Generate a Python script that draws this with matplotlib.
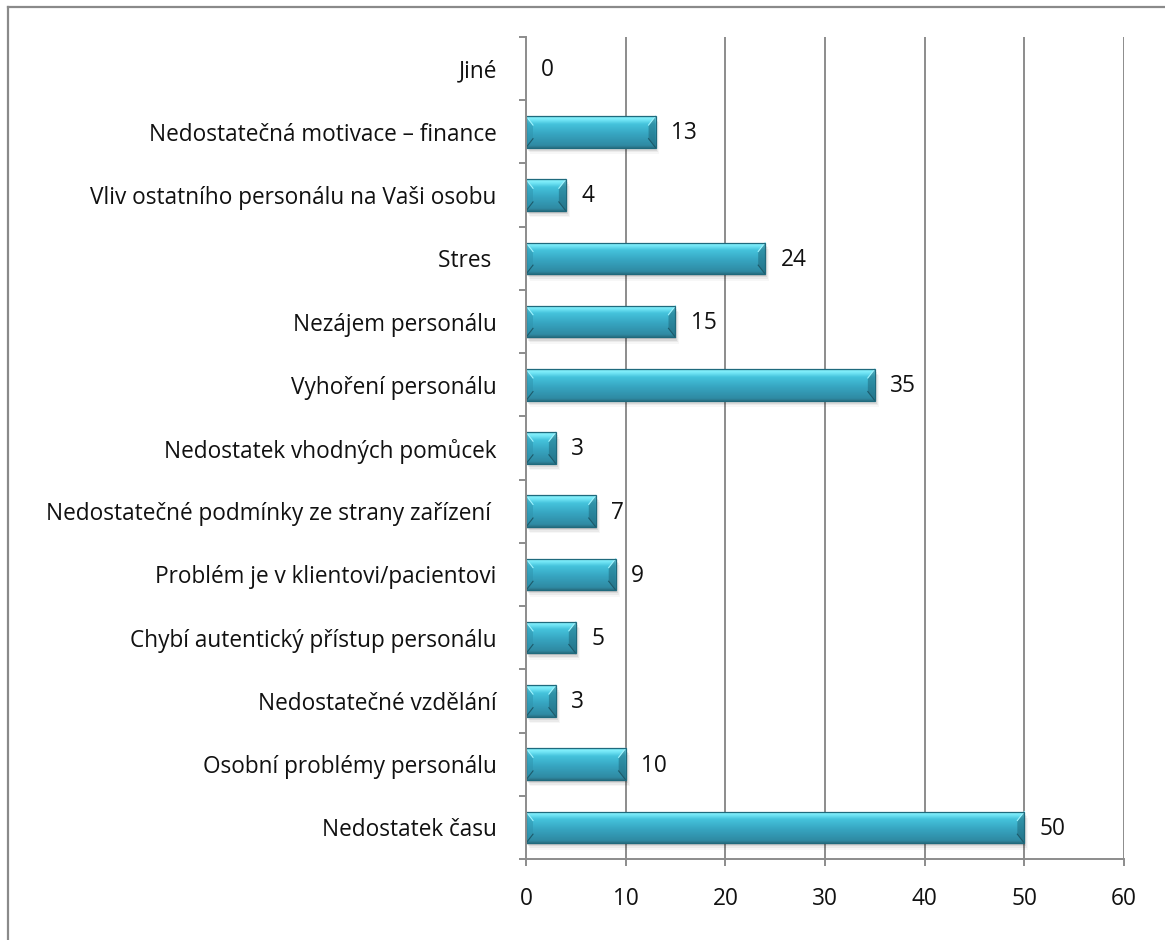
import numpy as np
import matplotlib
matplotlib.use("Agg")
import matplotlib.pyplot as plt
from matplotlib.patches import Rectangle, Polygon
from matplotlib.lines import Line2D
from matplotlib.colors import LinearSegmentedColormap

plt.rcParams['font.family'] = ['Open Sans', 'DejaVu Sans']

# Categories listed from top to bottom of the chart
categories = [
    "Jiné",
    "Nedostatečná motivace – finance",
    "Vliv ostatního personálu na Vaši osobu",
    "Stres ",
    "Nezájem personálu",
    "Vyhoření personálu",
    "Nedostatek vhodných pomůcek",
    "Nedostatečné podmínky ze strany zařízení ",
    "Problém je v klientovi/pacientovi",
    "Chybí autentický přístup personálu",
    "Nedostatečné vzdělání",
    "Osobní problémy personálu",
    "Nedostatek času",
]
values = [0, 13, 4, 24, 15, 35, 3, 7, 9, 5, 3, 10, 50]
x_ticks = [0, 10, 20, 30, 40, 50, 60]

GRID = "#8c8c8c"
TEXT = "#111111"
FS = 16.3

fig = plt.figure(figsize=(11.65, 9.4), dpi=100)
ax = fig.add_axes([0.4515, 0.0862, 0.5133, 0.8744])

n = len(categories)
ypos = np.arange(n)
bar_h = 0.5

ax.set_xlim(0, 60)
ax.set_ylim(n - 0.5, -0.5)

# vertical gridlines
for t in x_ticks[1:]:
    ax.axvline(t, color=GRID, lw=1.4, zorder=1)

bars = ax.barh(ypos, values, height=bar_h, color="#3aaeca",
               edgecolor="none", zorder=3)

grad_cmap = LinearSegmentedColormap.from_list(
    "bevel", [(0.0, "#2a6f82"), (0.08, "#2f8aa3"), (0.45, "#37a6c2"),
              (0.75, "#45c3dc"), (0.88, "#72e6f6"), (0.95, "#86f0fb"),
              (1.0, "#4fc4db")])
grad = np.linspace(0, 1, 256).reshape(-1, 1)

# pixel -> data conversion for bevels and shadows
fig.canvas.draw()
px_x = 60 / (ax.bbox.width)
px_y = n / (ax.bbox.height)

for bar, v in zip(bars, values):
    if v <= 0:
        continue
    x0 = bar.get_x()
    y0 = bar.get_y()
    w = bar.get_width()
    h = bar.get_height()
    # soft drop shadow below the bar
    for k, a in enumerate([0.10, 0.07, 0.05, 0.03]):
        off = (k + 1) * 1.6
        ax.add_patch(Rectangle((x0 + off * px_x * 0.6, y0 + off * px_y),
                               w, h, facecolor="#000000", alpha=a,
                               edgecolor="none", zorder=2))
    # vertical gradient fill
    im = ax.imshow(grad[::-1], cmap=grad_cmap, aspect="auto",
                   extent=[x0, x0 + w, y0 + h, y0], origin="upper",
                   zorder=3.5, interpolation="bilinear")
    im.set_clip_path(bar)
    # bevelled end caps
    bx = min(7 * px_x, w / 2.2)
    by = 9 * px_y
    left = Polygon([[x0, y0], [x0 + bx, y0 + by], [x0 + bx, y0 + h - by],
                    [x0, y0 + h]], closed=True, facecolor="#2f93ad",
                   alpha=0.5, edgecolor="none", zorder=3.6)
    right = Polygon([[x0 + w, y0], [x0 + w - bx, y0 + by],
                     [x0 + w - bx, y0 + h - by], [x0 + w, y0 + h]],
                    closed=True, facecolor="#1e6577", alpha=0.5,
                    edgecolor="none", zorder=3.6)
    ax.add_patch(left)
    ax.add_patch(right)
    ax.plot([x0, x0 + bx], [y0, y0 + by], color="#a0f4ff", lw=0.8, zorder=3.7)
    ax.plot([x0 + w, x0 + w - bx], [y0, y0 + by], color="#a0f4ff", lw=0.8,
            zorder=3.7)
    ax.plot([x0, x0 + bx], [y0 + h, y0 + h - by], color="#1d5a6a", lw=0.8,
            zorder=3.7)
    ax.plot([x0 + w, x0 + w - bx], [y0 + h, y0 + h - by], color="#1d5a6a",
            lw=0.8, zorder=3.7)
    ax.add_patch(Rectangle((x0, y0), w, h, facecolor="none",
                           edgecolor="#1f6a7d", lw=0.9, zorder=3.8))

# value labels
for y, v in zip(ypos, values):
    ax.annotate(f"{v}", xy=(v, y), xytext=(11, -1), textcoords="offset points",
                ha="left", va="center", fontsize=FS, color=TEXT, zorder=5)

# axes styling
for s in ["top", "right"]:
    ax.spines[s].set_visible(False)
for s in ["left", "bottom"]:
    ax.spines[s].set_color(GRID)
    ax.spines[s].set_linewidth(1.4)
    ax.spines[s].set_zorder(4)

ax.set_yticks(ypos)
ax.set_yticklabels(categories, fontsize=FS, color=TEXT)
ax.set_yticks(np.arange(-0.5, n, 1.0), minor=True)
ax.tick_params(axis="y", which="major", length=0, pad=21)
ax.tick_params(axis="y", which="minor", length=5, width=1.4, color=GRID,
               direction="out")

ax.set_xticks(x_ticks)
ax.set_xticklabels([str(t) for t in x_ticks], fontsize=FS, color=TEXT)
ax.tick_params(axis="x", which="major", length=5, width=1.4, color=GRID,
               direction="out", pad=15)

# outer chart-area frame (top and left edges)
fig.add_artist(Line2D([8 / 1165, 8 / 1165], [0, 1 - 7 / 940],
                      transform=fig.transFigure, color="#8a8a8a", lw=1.6))
fig.add_artist(Line2D([8 / 1165, 1], [1 - 7 / 940, 1 - 7 / 940],
                      transform=fig.transFigure, color="#8a8a8a", lw=1.6))

fig.savefig("out.png", dpi=100, facecolor="white")
